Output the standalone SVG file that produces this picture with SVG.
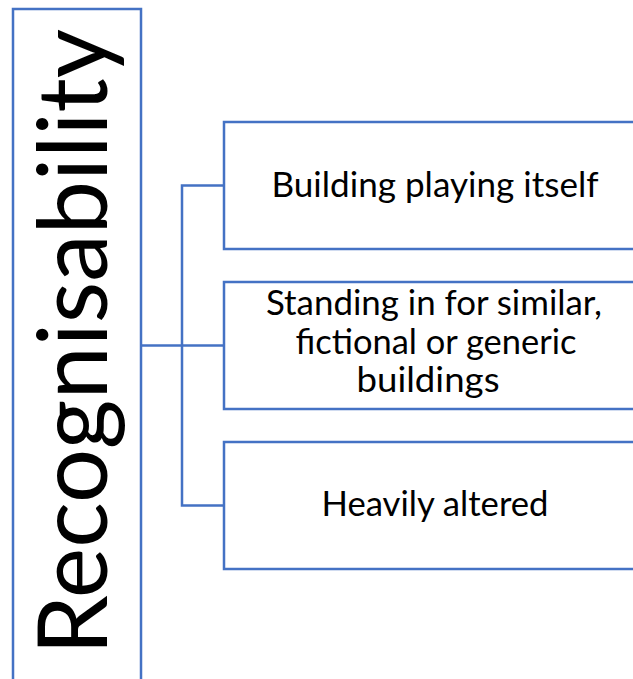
<svg xmlns="http://www.w3.org/2000/svg" width="633" height="679" viewBox="0 0 633 679">
<style>
.box{fill:#FFFFFF;stroke:#4472C4;stroke-width:2.5}
.con{fill:none;stroke:#4472C4;stroke-width:2.5}
.t{font-family:Lato,"Open Sans","Liberation Sans",sans-serif;font-size:35px;fill:#000000;text-anchor:middle}
.big{font-family:Lato,"Open Sans","Liberation Sans",sans-serif;font-size:96px;fill:#000000;text-anchor:middle}
</style>
<rect x="0" y="0" width="633" height="679" fill="#FFFFFF"/>
<g id="root">
<rect class="box" x="13" y="9" width="128" height="700"/>
<text class="big" transform="translate(107,342) rotate(-90)" textLength="626" lengthAdjust="spacingAndGlyphs">Recognisability</text>
</g>
<g id="connectors">
<path class="con" d="M141,345.5 H224"/>
<path class="con" d="M224,185.5 H182 V505.5 H224"/>
</g>
<g id="node1">
<rect class="box" x="224" y="122" width="430" height="127"/>
<text class="t" x="435" y="197" textLength="327" lengthAdjust="spacingAndGlyphs">Building playing itself</text>
</g>
<g id="node2">
<rect class="box" x="224" y="282" width="430" height="127"/>
<text class="t" x="434" y="315" textLength="336" lengthAdjust="spacingAndGlyphs">Standing in for similar,</text>
<text class="t" x="436" y="354" textLength="281" lengthAdjust="spacingAndGlyphs">fictional or generic</text>
<text class="t" x="428" y="392" textLength="143" lengthAdjust="spacingAndGlyphs">buildings</text>
</g>
<g id="node3">
<rect class="box" x="224" y="442" width="430" height="127"/>
<text class="t" x="435" y="516" textLength="227" lengthAdjust="spacingAndGlyphs">Heavily altered</text>
</g>
</svg>
